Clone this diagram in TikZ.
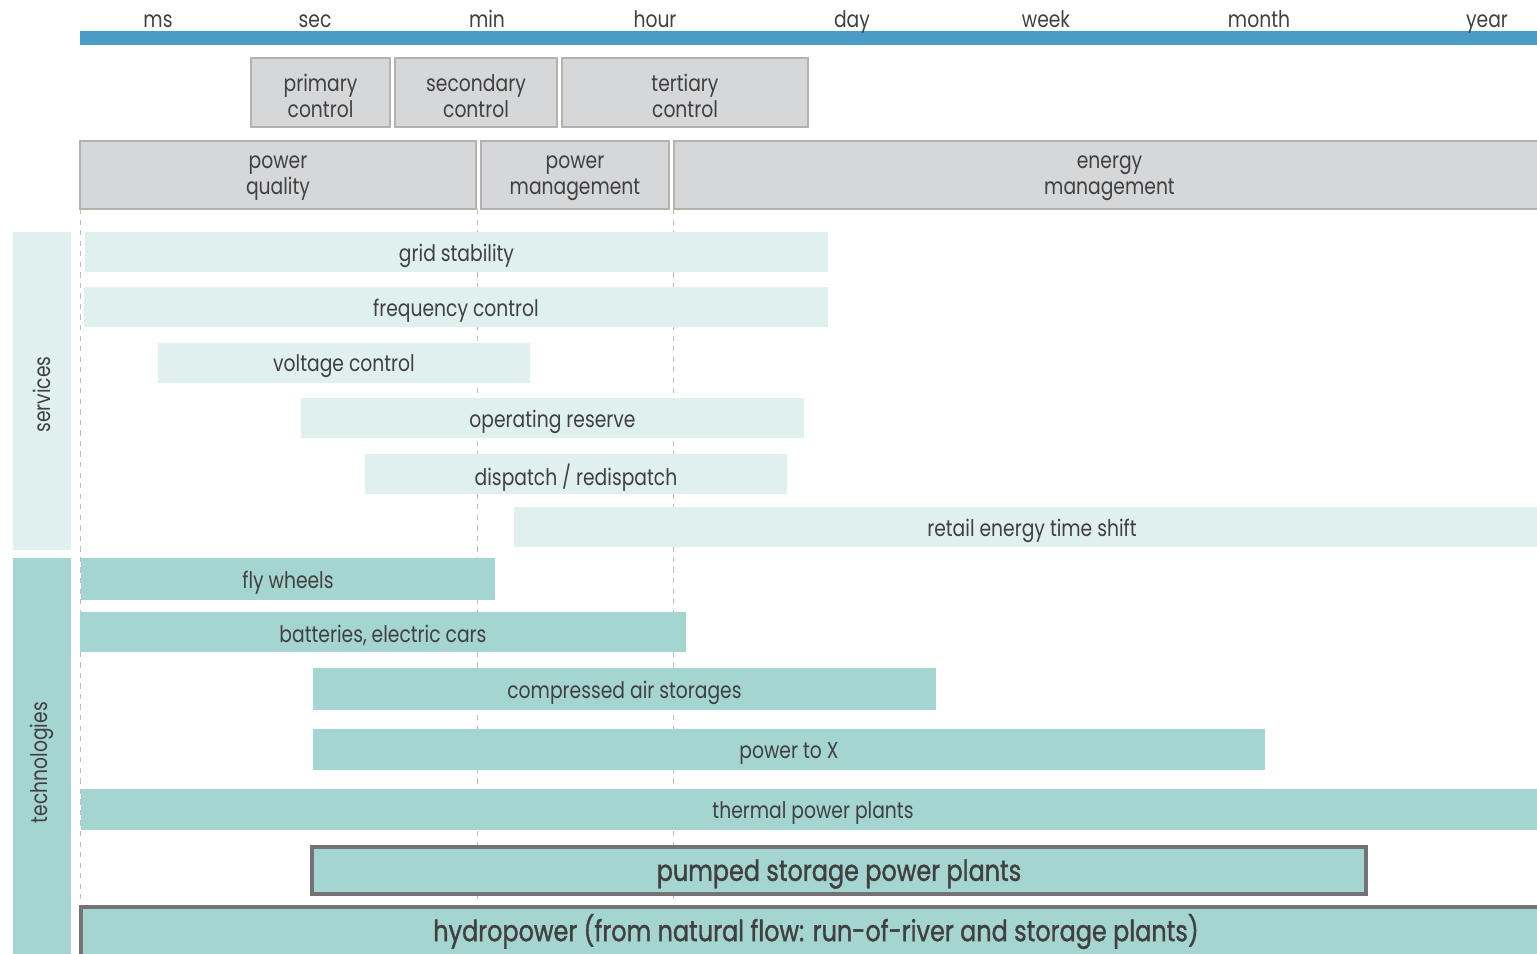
\documentclass[tikz,border=0pt]{standalone}
\usepackage{fontspec}
\setmainfont{Poppins}[FakeStretch=0.82]
\newfontfamily\bigfont{Poppins}[FakeStretch=0.82,FakeBold=1.2]
\usetikzlibrary{calc}

\definecolor{axisblue}{HTML}{4A9CC6}
\definecolor{headgray}{HTML}{D6D7D9}
\definecolor{headline}{HTML}{B3B3AC}
\definecolor{svclight}{HTML}{DFF0EF}
\definecolor{techteal}{HTML}{A5D5D1}
\definecolor{edgegray}{HTML}{737373}
\definecolor{txtgray}{HTML}{404040}
\definecolor{rulegray}{HTML}{BDBDBD}

\begin{document}
\begin{tikzpicture}[
	x=0.02cm,y=-0.02cm,
	every node/.style={text=txtgray,font=\fontsize{13}{14.8}\selectfont,align=center,inner sep=0pt,yshift=-0.07cm},
	head/.style={fill=headgray,draw=headline,line width=0.8pt},
	svc/.style={fill=svclight},
	tech/.style={fill=techteal},
	big/.style={fill=techteal,draw=edgegray,line width=2.2pt},
	timeline/.style={draw=rulegray,dashed,line width=0.5pt},
	bigtext/.style={font=\bigfont\fontsize{16.6}{19}\selectfont}
]
\useasboundingbox (0,0) rectangle (1537,953);
\clip (0,0) rectangle (1537,953);
%time axis
\fill[axisblue] (80,31) rectangle (1545,45);
\foreach \t/\x in {ms/158,sec/315,min/487,hour/655,day/852,week/1046,month/1259,year/1487}
	\node[anchor=base] (t-\t) at (\x,24) {\t};
%control and management headers
\path[head] (251,58) rectangle node (prim) {primary\\control} (390,127);
\path[head] (395,58) rectangle node (sec) {secondary\\control} (557,127);
\path[head] (562,58) rectangle node (tert) {tertiary\\control} (808,127);
\path[head] (80,141) rectangle node (pq) {power\\quality} (476,209);
\path[head] (481,141) rectangle node (pm) {power\\management} (669,209);
\path[head] (674,141) rectangle node (em) {energy\\management} (1545,209);
%dashed borders
\path[timeline] (80,209) -- (80,953) (477,209) -- (477,907) (673,209) -- (673,907);
%side labels
\path[svc] (13,232) rectangle node[yshift=0pt,rotate=90] (services) {services} (71,550);
\path[tech] (13,558) rectangle node[yshift=0pt,rotate=90] (technologies) {technologies} (71,960);
%services
\path[svc] (85,232) rectangle node (gs) {grid stability} (828,272);
\path[svc] (84,287) rectangle node (fc) {frequency control} (828,327);
\path[svc] (158,343) rectangle node (vc) {voltage control} (530,383);
\path[svc] (301,398) rectangle node (or) {operating reserve} (804,438);
\path[svc] (365,454) rectangle node (dr) {dispatch / redispatch} (787,494);
\path[svc] (514,507) rectangle node[xshift=0.13cm] (rets) {retail energy time shift} (1537,547);
%technologies
\path[tech] (81,558) rectangle node (fw) {fly wheels} (495,600);
\path[tech] (80,612) rectangle node (bat) {batteries, electric cars} (686,652);
\path[tech] (313,668) rectangle node (cas) {compressed air storages} (936,710);
\path[tech] (313,729) rectangle node (ptx) {power to X} (1265,770);
\path[tech] (81,789) rectangle node (tpp) {thermal power plants} (1545,830);
\path[big] (312,847) rectangle node[bigtext] (psp) {pumped storage power plants} (1366,894);
\path[big] (81,907) rectangle (1560,960);
\node[bigtext] (hydro) at (816,928) {hydropower (from natural flow: run-of-river and storage plants)};
\end{tikzpicture}
\end{document}
